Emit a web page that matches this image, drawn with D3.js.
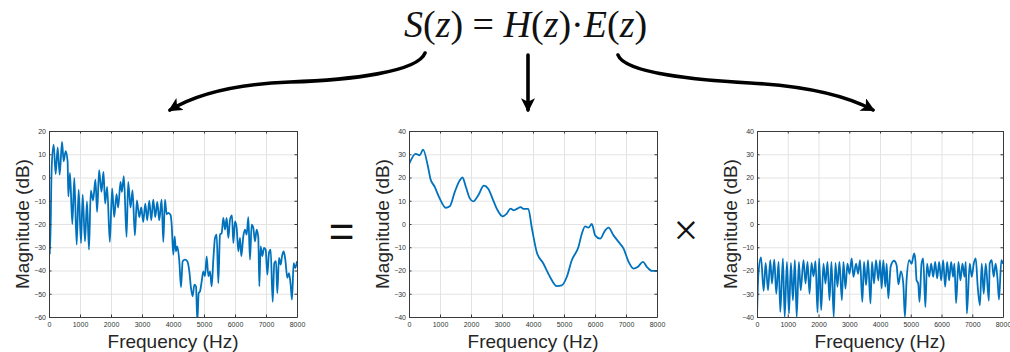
<!DOCTYPE html>
<html>
<head>
<meta charset="utf-8">
<script src="https://cdn.jsdelivr.net/npm/d3@7"></script>
<style>
  body { margin: 0; background: #fff; }
  svg { display: block; }
</style>
</head>
<body>
<svg id="fig" width="1010" height="352"></svg>
<script>
// S(z): speech spectrum, [Hz, dB]
const sSpectrum = [
  [0,-17.4],[32,-33],[86,4],[150,14.1],[215,1.5],[280,13],[344,1.2],[420,15.3],[473,7],[538,11.3],
  [600,7],[624,-8.1],[677,2],[752,-20],[817,-0.2],[892,-28.9],[957,-5.2],[1032,-28.2],[1086,-7.4],
  [1161,-27.5],[1225,-10.3],[1290,-31],[1348,-5.7],[1423,-9.8],[1498,-0.9],[1552,-14.8],[1617,3.2],
  [1692,-6.2],[1757,2.4],[1811,-11.2],[1876,-4],[1962,-27.7],[2037,-4.7],[2102,-17],[2178,-7.2],
  [2231,-12.9],[2307,-1.9],[2350,-6.2],[2415,0.6],[2501,-25.6],[2555,-1.9],[2630,-12.9],[2695,-5.5],
  [2770,-24.9],[2835,-9.8],[2911,-17],[2975,-12.9],[3040,-19.1],[3105,-11.2],[3169,-18.4],[3234,-10],
  [3299,-18.4],[3363,-9.5],[3428,-17],[3493,-10.5],[3557,-18.4],[3633,-9.5],[3687,-27.7],[3741,-9.5],
  [3795,-15.8],[3849,-15.2],[3924,-16.2],[3957,-20.3],[4010,-33.2],[4053,-25.3],[4096,-31.8],
  [4140,-29.6],[4204,-36],[4258,-47.2],[4312,-36],[4387,-35.3],[4462,-36],[4527,-40.4],[4580,-47.5],
  [4634,-51.1],[4688,-46.1],[4742,-46.8],[4785,-62],[4828,-49.7],[4871,-49],[4925,-44.7],[4979,-40.4],
  [5032,-42.5],[5086,-33.9],[5140,-42.5],[5194,-40.4],[5247,-46.8],[5301,-35.3],[5355,-26],[5409,-24.6],
  [5462,-45.4],[5516,-24.6],[5570,-23.9],[5624,-17.4],[5678,-22.4],[5731,-17.4],[5785,-26],[5839,-18.1],
  [5903,-16.3],[5946,-28.2],[6000,-18.9],[6054,-21.7],[6107,-31.8],[6161,-26],[6204,-33.9],[6268,-25.3],
  [6322,-22.4],[6376,-24.6],[6430,-17.1],[6483,-35.3],[6537,-20.3],[6591,-21.7],[6645,-27.5],[6698,-22.4],
  [6752,-26],[6785,-46.8],[6828,-29.6],[6881,-33.9],[6935,-30.3],[6989,-31],[7043,-41.8],[7096,-32.5],
  [7150,-31],[7215,-53.5],[7268,-36.8],[7322,-36],[7365,-49.7],[7419,-34.6],[7473,-37.5],[7516,-33.9],
  [7570,-31.8],[7623,-35.3],[7688,-43.2],[7742,-41.1],[7795,-46.1],[7838,-52.5],[7892,-36.8],[7946,-39],
  [8000,-36]
];

// H(z): vocal tract envelope
const hEnvelope = [
  [0,25.7],[216,30.2],[345,29.5],[453,32],[615,24.5],[690,19.5],[830,16],[990,11],[1186,7],[1315,7.6],
  [1477,13.8],[1639,18.8],[1725,20],[1833,16],[1962,11],[2070,9.7],[2232,12.3],[2415,16.5],[2555,15.2],
  [2717,10.2],[2846,6.2],[3019,3.3],[3148,4.4],[3278,6.6],[3385,5.9],[3493,6.6],[3601,7.3],[3687,6.5],
  [3849,6.5],[3957,-1.3],[4119,-12],[4334,-17],[4550,-22.8],[4765,-26.7],[4927,-26.4],[5089,-22.8],
  [5251,-15.6],[5466,-9.9],[5574,-4.2],[5682,-1],[5790,-1.6],[5898,0],[6005,-4.9],[6167,-6.3],
  [6329,-2.7],[6437,-1.6],[6598,-4.9],[6760,-7.7],[6922,-10.6],[7084,-16.3],[7245,-19.2],[7375,-18.5],
  [7547,-16.3],[7677,-18.5],[7838,-20.2],[8000,-20.2]
];

// E(z): excitation spectrum
const eExcitation = [
  [0,-40],[43,-22],[130,-14.4],[216,-28.8],[281,-16.7],[357,-28.5],[432,-15.5],[486,-25.6],[562,-15.3],
  [627,-30],[703,-16.3],[757,-37.8],[843,-14.8],[900,-40],[973,-16.3],[1040,-38.5],[1103,-16.7],
  [1167,-32.8],[1232,-15.5],[1290,-40],[1362,-16.3],[1420,-28.5],[1513,-15.5],[1578,-25.6],[1643,-16.3],
  [1708,-30],[1773,-16.7],[1838,-22.5],[1903,-16],[1967,-38],[2021,-14.8],[2086,-37],[2162,-17.1],
  [2227,-25.6],[2292,-16.3],[2357,-32.8],[2421,-16.3],[2495,-40],[2551,-16.7],[2616,-27],[2681,-16.3],
  [2760,-32.8],[2811,-16.3],[2876,-27.8],[2941,-17.1],[3006,-21.4],[3081,-14.8],[3135,-22.7],[3222,-17.1],
  [3286,-21.4],[3351,-15.5],[3425,-33.5],[3481,-16.3],[3546,-26.3],[3611,-15.5],[3690,-34.2],[3740,-16.3],
  [3805,-25.6],[3870,-15.5],[3946,-24.2],[4000,-15.5],[4054,-27.8],[4108,-15.5],[4173,-27],[4216,-17.1],
  [4271,-32],[4346,-18.4],[4454,-15.8],[4540,-17.7],[4600,-26],[4680,-20.4],[4757,-25.6],[4810,-40],
  [4865,-24],[4951,-15.5],[5027,-17.1],[5110,-12.6],[5150,-15.5],[5189,-24.2],[5243,-25.6],[5285,-33.5],
  [5351,-17.1],[5405,-14.8],[5475,-35.7],[5530,-17.1],[5600,-22.7],[5664,-17.1],[5729,-22.7],[5794,-16.3],
  [5859,-23.4],[5924,-16.3],[5989,-24.2],[6054,-15.5],[6118,-27],[6183,-16.3],[6248,-24.2],[6313,-16.3],
  [6378,-22.7],[6420,-17.1],[6475,-34],[6551,-16.3],[6616,-24.2],[6681,-17.1],[6746,-22.7],[6790,-16.3],
  [6825,-38.5],[6918,-17.1],[6983,-22.7],[7048,-17.1],[7113,-14.8],[7178,-27],[7250,-35],[7308,-17.1],
  [7373,-30],[7438,-17.1],[7540,-33],[7567,-17.1],[7632,-15.5],[7697,-22.7],[7762,-17.1],[7820,-23.4],
  [7870,-32.5],[7946,-15.5],[8000,-17.1]
];

const freqTicks = [0, 1000, 2000, 3000, 4000, 5000, 6000, 7000, 8000];
const sDbTicks = [-60, -50, -40, -30, -20, -10, 0, 10, 20];
const heDbTicks = [-40, -30, -20, -10, 0, 10, 20, 30, 40];

const xLabel = "Frequency (Hz)";
const yLabel = "Magnitude (dB)";

const svg = d3.select("#fig");
const lineColor = "#0072bd";
const fmt = d3.format("d");

const panels = [
  { data: sSpectrum, yTicks: sDbTicks, left: 49, right: 297 },
  { data: hEnvelope, yTicks: heDbTicks, left: 409, right: 657 },
  { data: eExcitation, yTicks: heDbTicks, left: 757, right: 1003 }
];
const plotTop = 131, plotBottom = 317;

panels.forEach((p, i) => {
  const w = p.right - p.left, h = plotBottom - plotTop;
  const x = d3.scaleLinear().domain([0, 8000]).range([0, w]);
  const y = d3.scaleLinear().domain(d3.extent(p.yTicks)).range([h, 0]);

  const g = svg.append("g").attr("transform", `translate(${p.left},${plotTop})`);

  // grid
  g.append("g")
    .attr("transform", `translate(0,${h})`)
    .call(d3.axisBottom(x).tickValues(freqTicks).tickSize(-h).tickFormat(""))
    .call(a => a.select(".domain").remove())
    .selectAll("line").attr("stroke", "#e3e3e3");
  g.append("g")
    .call(d3.axisLeft(y).tickValues(p.yTicks).tickSize(-w).tickFormat(""))
    .call(a => a.select(".domain").remove())
    .selectAll("line").attr("stroke", "#e3e3e3");

  // line, clipped to the axes box
  g.append("clipPath").attr("id", "clip" + i)
    .append("rect").attr("width", w).attr("height", h);

  g.append("path")
    .datum(p.data)
    .attr("clip-path", `url(#clip${i})`)
    .attr("fill", "none")
    .attr("stroke", lineColor)
    .attr("stroke-width", 1.8)
    .attr("stroke-linejoin", "round")
    .attr("d", d3.line().x(d => x(d[0])).y(d => y(d[1])).curve(d3.curveMonotoneX));

  // axes with inward ticks
  const styleAxis = a => {
    a.select(".domain").attr("stroke", "#3a3a3a");
    a.selectAll(".tick line").attr("stroke", "#3a3a3a");
    a.selectAll("text").attr("fill", "#333").style("font-size", "7px")
      .style("font-family", "'Liberation Sans', Arial, sans-serif");
  };
  g.append("g").attr("transform", `translate(0,${h})`)
    .call(d3.axisBottom(x).tickValues(freqTicks).tickFormat(fmt)
      .tickSizeInner(-2.5).tickSizeOuter(0).tickPadding(5))
    .call(styleAxis);
  g.append("g")
    .call(d3.axisLeft(y).tickValues(p.yTicks).tickFormat(fmt)
      .tickSizeInner(-2.5).tickSizeOuter(0).tickPadding(3))
    .call(styleAxis);
  g.append("g")
    .call(d3.axisTop(x).tickValues(freqTicks).tickSizeInner(-2.5).tickSizeOuter(0).tickFormat(""))
    .call(styleAxis);
  g.append("g").attr("transform", `translate(${w},0)`)
    .call(d3.axisRight(y).tickValues(p.yTicks).tickSizeInner(-2.5).tickSizeOuter(0).tickFormat(""))
    .call(styleAxis);

  // axis labels
  g.append("text")
    .attr("x", w / 2).attr("y", h + 31)
    .attr("text-anchor", "middle")
    .style("font-family", "'Liberation Sans', Arial, sans-serif")
    .style("font-size", "19px").attr("fill", "#262626")
    .text(xLabel);
  g.append("text")
    .attr("transform", `translate(-20,${h / 2}) rotate(-90)`)
    .attr("text-anchor", "middle")
    .style("font-family", "'Liberation Sans', Arial, sans-serif")
    .style("font-size", "19px").attr("fill", "#262626")
    .text(yLabel);
});

// equation
const eqParts = [["S", 1], ["(", 0], ["z", 1], [")", 0], [" = ", 0], ["H", 1], ["(", 0], ["z", 1], [")", 0],
  ["\u00b7", 0], ["E", 1], ["(", 0], ["z", 1], [")", 0]];
const eq = svg.append("text")
  .attr("x", 404).attr("y", 37)
  .style("font-family", "'Liberation Serif', 'Times New Roman', serif")
  .style("font-size", "38px").attr("fill", "#111");
eq.selectAll("tspan").data(eqParts).enter().append("tspan")
  .style("font-style", d => d[1] ? "italic" : "normal")
  .text(d => d[0]);
if (eq.node().getComputedTextLength() > 245) {
  eq.attr("textLength", 243).attr("lengthAdjust", "spacing");
}

// operators between panels
svg.append("text").attr("x", 341.5).attr("y", 247).attr("text-anchor", "middle")
  .style("font-family", "'Liberation Sans', Arial, sans-serif").style("font-size", "44px")
  .attr("fill", "#111").text("=");
svg.append("text").attr("x", 686).attr("y", 245).attr("text-anchor", "middle")
  .style("font-family", "'Liberation Serif', 'Times New Roman', serif").style("font-size", "44px")
  .attr("fill", "#111").text("\u00d7");

// arrows
svg.append("defs").append("marker")
  .attr("id", "head")
  .attr("viewBox", "0 0 12 12")
  .attr("refX", 10).attr("refY", 6)
  .attr("markerWidth", 14).attr("markerHeight", 14)
  .attr("markerUnits", "userSpaceOnUse")
  .attr("orient", "auto")
  .append("path").attr("d", "M0,0 L12,6 L0,12 L3,6 Z").attr("fill", "#000");

const arrows = [
  "M425,53 C418,72 350,80 290,82 C235,84 195,95 170,110",
  "M528,55 L528,110",
  "M618,55 C625,74 700,80 750,83 C805,86 845,95 873,110"
];
svg.selectAll(".arrow").data(arrows).enter().append("path")
  .attr("class", "arrow")
  .attr("d", d => d)
  .attr("fill", "none")
  .attr("stroke", "#000")
  .attr("stroke-width", 3.6)
  .attr("stroke-linecap", "round")
  .attr("marker-end", "url(#head)");
</script>
</body>
</html>
